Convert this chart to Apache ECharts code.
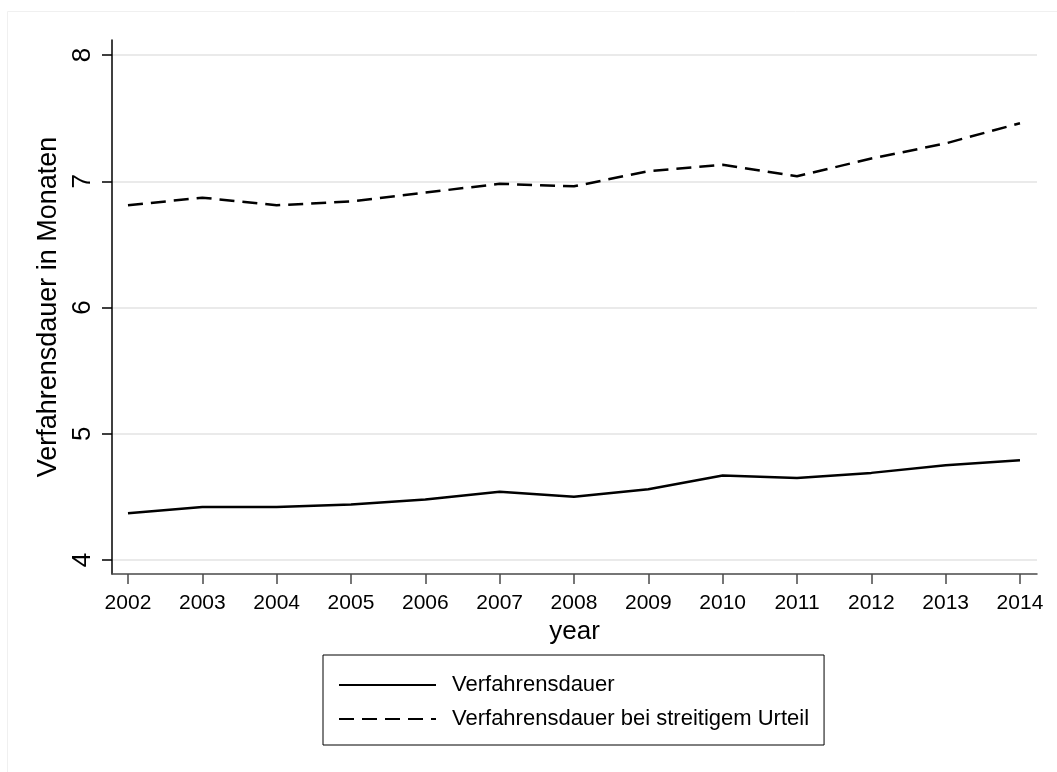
<!DOCTYPE html>
<html>
<head>
<meta charset="utf-8">
<script src="https://cdn.jsdelivr.net/npm/echarts@6/dist/echarts.min.js"></script>
<style>
html,body{margin:0;padding:0;background:#fff;}
#chart{width:1057px;height:772px;}
</style>
</head>
<body>
<div id="chart"></div>
<script>
const years = [2002, 2003, 2004, 2005, 2006, 2007, 2008, 2009, 2010, 2011, 2012, 2013, 2014];
const verfahrensdauer = [4.37, 4.42, 4.42, 4.44, 4.48, 4.54, 4.50, 4.56, 4.67, 4.65, 4.69, 4.75, 4.79];
const verfahrensdauerStreitig = [6.81, 6.87, 6.81, 6.84, 6.91, 6.98, 6.96, 7.08, 7.13, 7.04, 7.18, 7.30, 7.46];
const yTicks = [4, 5, 6, 7, 8];
const seriesNames = ['Verfahrensdauer', 'Verfahrensdauer bei streitigem Urteil'];

const FONT = '"Liberation Sans", Arial, Helvetica, sans-serif';
const chart = echarts.init(document.getElementById('chart'), null, {renderer: 'canvas'});

const option = {
  backgroundColor: '#ffffff',
  animation: false,
  textStyle: {fontFamily: FONT, color: '#000'},
  graphic: [{
    type: 'rect', silent: true, z: -10,
    shape: {x: 7.5, y: 11.5, width: 1060, height: 770},
    style: {fill: 'none', stroke: '#f0f0f0', lineWidth: 1}
  }],
  grid: {left: 112, right: 20, top: 40, bottom: 198, containLabel: false},
  legend: {
    orient: 'vertical',
    left: 323, top: 655,
    padding: [19, 15, 15, 15],
    itemGap: 12,
    itemWidth: 97, itemHeight: 22,
    borderColor: '#000', borderWidth: 1,
    backgroundColor: '#fff',
    itemStyle: {opacity: 0},
    textStyle: {fontFamily: FONT, fontSize: 22, color: '#000', padding: [0, 0, 0, 11]},
    data: seriesNames
  },
  xAxis: {
    type: 'value',
    min: 2001.785, max: 2014.229,
    name: 'year', nameLocation: 'middle', nameGap: 44,
    nameTextStyle: {fontFamily: FONT, fontSize: 26, color: '#000'},
    axisLine: {show: true, onZero: false, lineStyle: {color: '#4a4a4a', width: 1.5}},
    axisTick: {show: true, length: 10, customValues: years, lineStyle: {color: '#4a4a4a', width: 1.5}},
    axisLabel: {customValues: years, margin: 19, fontFamily: FONT, fontSize: 21, color: '#000',
      formatter: v => String(v)},
    splitLine: {show: false}
  },
  yAxis: {
    type: 'value',
    min: 3.889, max: 8.119,
    name: 'Verfahrensdauer in Monaten', nameLocation: 'middle', nameRotate: 90, nameGap: 48,
    nameTextStyle: {fontFamily: FONT, fontSize: 27, color: '#000'},
    axisLine: {show: true, onZero: false, lineStyle: {color: '#000', width: 1.5}},
    axisTick: {show: true, length: 10, customValues: yTicks, lineStyle: {color: '#000', width: 1.5}},
    axisLabel: {customValues: yTicks, rotate: 90, margin: 16, fontFamily: FONT, fontSize: 26, color: '#000',
      formatter: v => String(v)},
    splitLine: {show: true, lineStyle: {color: '#eaeaea', width: 2}}
  },
  series: [
    {
      name: seriesNames[0], type: 'line', symbol: 'none',
      data: years.map((y, i) => [y, verfahrensdauer[i]]),
      lineStyle: {color: '#000', width: 2.5, type: 'solid'},
      itemStyle: {color: '#000'}
    },
    {
      name: seriesNames[1], type: 'line', symbol: 'none',
      data: years.map((y, i) => [y, verfahrensdauerStreitig[i]]),
      lineStyle: {color: '#000', width: 2.5, type: [15, 8]},
      itemStyle: {color: '#000'}
    }
  ]
};
chart.setOption(option);
</script>
</body>
</html>
